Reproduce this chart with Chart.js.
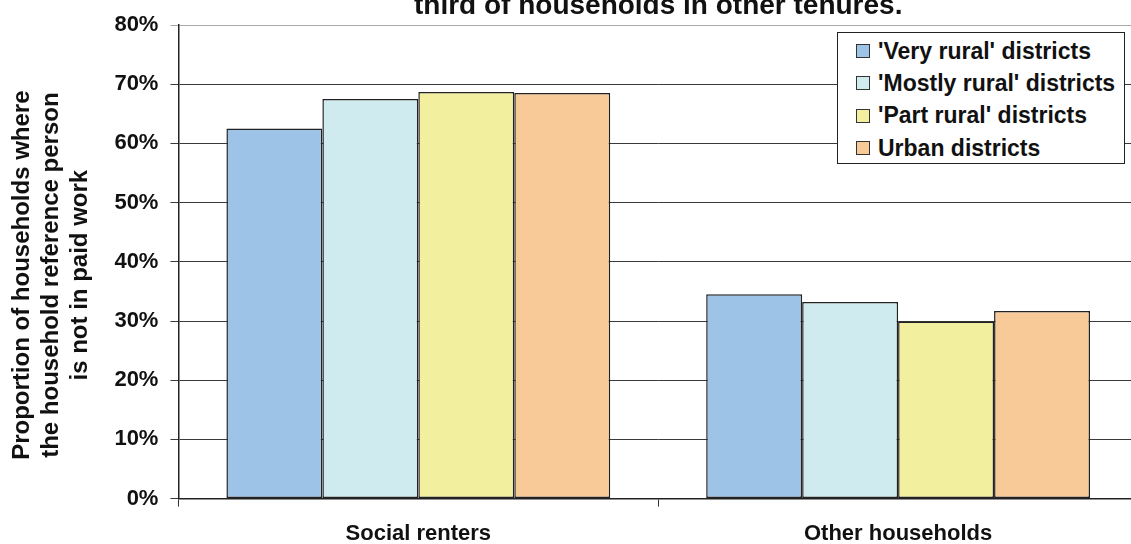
<!DOCTYPE html>
<html lang="en">
<head>
    <meta charset="UTF-8">
    <title>Households not in paid work</title>
    <style>
        html, body {
            margin: 0;
            padding: 0;
            background: #fff;
            overflow: hidden;
            width: 1131px;
            height: 544px;
        }

        #wrap {
            position: relative;
            width: 1131px;
            height: 544px;
            overflow: hidden;
        }

        #chart-box {
            position: absolute;
            left: 0;
            top: -14px;
            width: 1140px;
            height: 575px;
        }

        #legend {
            position: absolute;
            left: 837px;
            top: 32px;
            width: 288px;
            height: 132px;
            border: 1.5px solid #222;
            background: #fff;
            font-family: Arial, "Liberation Sans", sans-serif;
            font-weight: bold;
            font-size: 23px;
            color: #111;
            padding-top: 2px;
            box-sizing: border-box;
        }

        .legend-item {
            display: flex;
            align-items: center;
            height: 32.3px;
            padding-left: 18px;
        }

        .legend-swatch {
            width: 12px;
            height: 12px;
            border: 1px solid #333;
            margin-right: 8px;
            flex: none;
        }
    </style>
</head>
<body>
    <div id="wrap">
        <div id="chart-box"><canvas id="chart"></canvas></div>
        <div id="legend"></div>
    </div>

    <script src="https://cdn.jsdelivr.net/npm/chart.js"></script>
    <script>
        const categories = ['Social renters', 'Other households'];
        const seriesNames = ["'Very rural' districts", "'Mostly rural' districts", "'Part rural' districts", 'Urban districts'];
        const veryRural = [62.5, 34.5];
        const mostlyRural = [67.5, 33.2];
        const partRural = [68.7, 29.9];
        const urban = [68.5, 31.7];
        const seriesColors = ['#9dc3e6', '#cfebf0', '#f2f09e', '#f8ca98'];
        const yAxisTitle = ['Proportion of households where    ', 'the household reference person    ', 'is not in paid work    '];
        const chartTitle = 'third of households in other tenures.';

        const fontFamily = 'Arial, "Liberation Sans", sans-serif';
        const seriesValues = [veryRural, mostlyRural, partRural, urban];

        const ctx = document.getElementById('chart').getContext('2d');

        const chart = new Chart(ctx, {
            type: 'bar',
            data: {
                labels: categories,
                datasets: seriesNames.map((name, i) => ({
                    label: name,
                    data: seriesValues[i],
                    backgroundColor: seriesColors[i],
                    borderColor: '#222',
                    borderWidth: 1.5,
                    borderSkipped: false,
                    categoryPercentage: 0.8,
                    barPercentage: 1.0
                }))
            },
            options: {
                responsive: true,
                maintainAspectRatio: false,
                animation: false,
                layout: {
                    padding: { left: 8, right: 2, top: 0, bottom: 0 }
                },
                plugins: {
                    legend: { display: false },
                    tooltip: { enabled: false },
                    title: {
                        display: true,
                        text: chartTitle,
                        fullSize: false,
                        color: '#111',
                        font: { family: fontFamily, size: 28, weight: 'bold', lineHeight: 1.0 },
                        padding: { top: 6, bottom: 5 }
                    }
                },
                scales: {
                    x: {
                        grid: {
                            offset: true,
                            drawOnChartArea: false,
                            drawTicks: true,
                            tickLength: 8,
                            color: '#333'
                        },
                        border: { display: true, color: '#222', width: 1.5 },
                        ticks: {
                            color: '#111',
                            padding: 14,
                            font: { family: fontFamily, size: 22, weight: 'bold' }
                        }
                    },
                    y: {
                        min: 0,
                        max: 80,
                        ticks: {
                            stepSize: 10,
                            color: '#111',
                            padding: 12,
                            font: { family: fontFamily, size: 22, weight: 'bold' },
                            callback: value => value + '%'
                        },
                        grid: {
                            tickLength: 8,
                            lineWidth: 1,
                            color: c => (c.tick && c.tick.value === 80) ? '#a8a8a8' : '#3a3a3a'
                        },
                        border: { display: true, color: '#222', width: 1.5 },
                        title: {
                            display: true,
                            text: yAxisTitle,
                            color: '#111',
                            font: { family: fontFamily, size: 24, weight: 'bold', lineHeight: 1.2 },
                            padding: { top: 0, bottom: 8 }
                        }
                    }
                }
            }
        });

        // html legend box inside the plot
        const legendDiv = document.getElementById('legend');
        seriesNames.forEach((name, i) => {
            const item = document.createElement('div');
            item.className = 'legend-item';
            const swatch = document.createElement('span');
            swatch.className = 'legend-swatch';
            swatch.style.background = seriesColors[i];
            const label = document.createElement('span');
            label.textContent = name;
            item.appendChild(swatch);
            item.appendChild(label);
            legendDiv.appendChild(item);
        });
    </script>
</body>
</html>
